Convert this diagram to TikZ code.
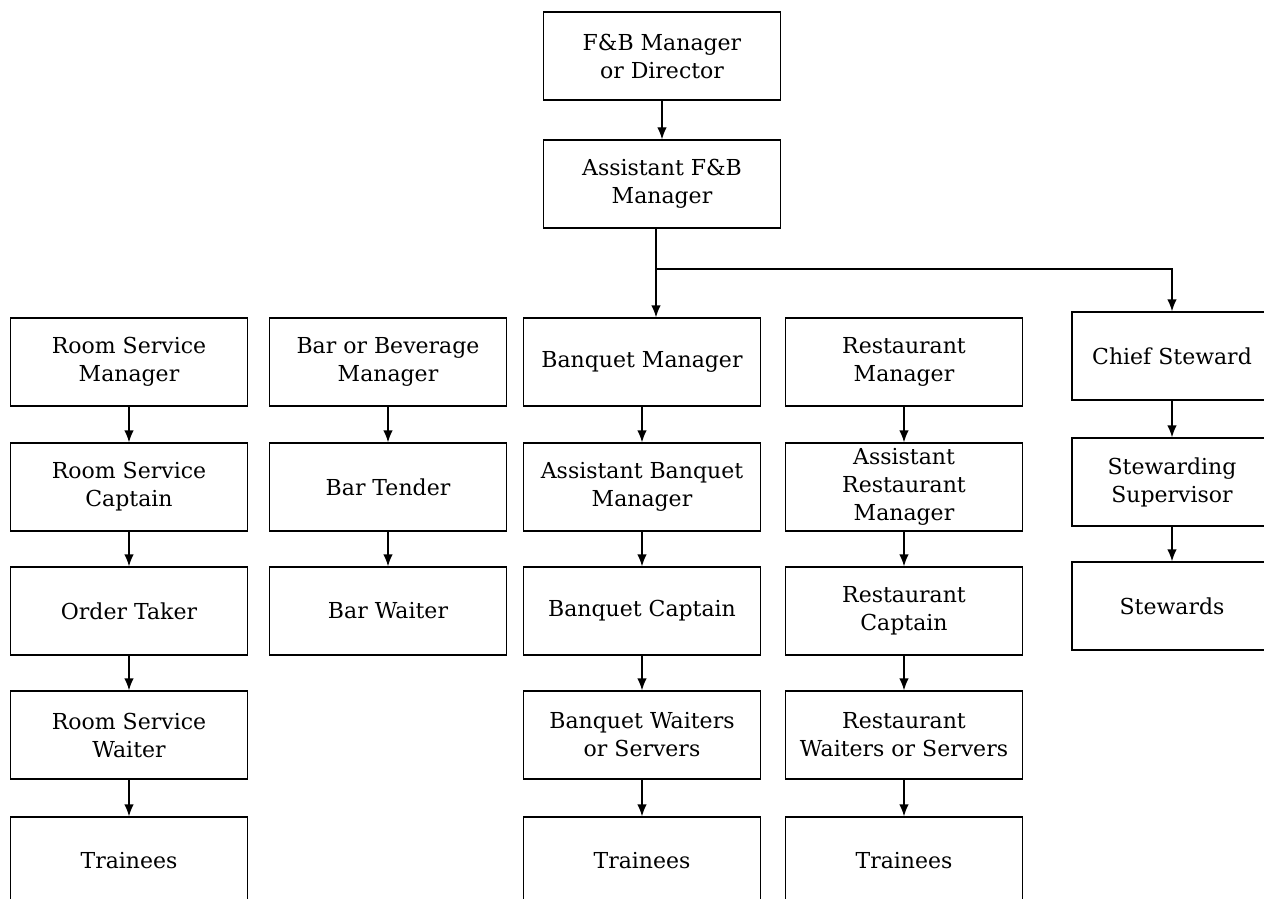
\documentclass[tikz,border=0pt]{standalone}
\usepackage{fontspec}
\setmainfont{DejaVu Serif}
\usetikzlibrary{arrows.meta}
\tikzset{>={Latex[length=6pt, width=4.8pt]}}
\tikzset{post/.style={draw, line width=0.7pt, minimum width=118.5pt, minimum height=44pt,
    align=center, inner sep=1pt, font=\fontsize{11}{14}\selectfont},
  link/.style={->, line width=0.7pt}}

\begin{document}
\begin{tikzpicture}[x=0.5pt, y=-0.5pt]
	\useasboundingbox (0,0) rectangle (1264,899);
	% top of the chart
	\node [post] (fbm) at (662,56) {F\&B Manager\\or Director};
	\node [post] (afbm) at (662,184) {Assistant F\&B\\Manager};
	% room service
	\node [post] (rs1) at (129,362) {Room Service\\Manager};
	\node [post] (rs2) at (129,487) {Room Service\\Captain};
	\node [post] (rs3) at (129,611) {Order Taker};
	\node [post] (rs4) at (129,735) {Room Service\\Waiter};
	\node [post] (rs5) at (129,861) {Trainees};
	% bar
	\node [post] (bar1) at (388,362) {Bar or Beverage\\Manager};
	\node [post] (bar2) at (388,487) {Bar Tender};
	\node [post] (bar3) at (388,611) {Bar Waiter};
	% banquet
	\node [post] (bq1) at (642,362) {Banquet Manager};
	\node [post] (bq2) at (642,487) {Assistant Banquet\\Manager};
	\node [post] (bq3) at (642,611) {Banquet Captain};
	\node [post] (bq4) at (642,735) {Banquet Waiters\\or Servers};
	\node [post] (bq5) at (642,861) {Trainees};
	% restaurant
	\node [post] (rt1) at (904,362) {Restaurant\\Manager};
	\node [post] (rt2) at (904,487) {Assistant\\Restaurant\\Manager};
	\node [post] (rt3) at (904,611) {Restaurant\\Captain};
	\node [post] (rt4) at (904,735) {Restaurant\\Waiters or Servers};
	\node [post] (rt5) at (904,861) {Trainees};
	% stewarding
	\node [post, minimum width=100pt] (st1) at (1172,356) {Chief Steward};
	\node [post, minimum width=100pt] (st2) at (1172,482) {Stewarding\\Supervisor};
	\node [post, minimum width=100pt] (st3) at (1172,606) {Stewards};

	\draw [link] (fbm) -- (afbm);
	\coordinate (split) at (656,269);
	\draw [line width=0.7pt] (afbm.south -| split) -- (split);
	\draw [link] (split) -- (bq1.north -| split);
	\draw [link] (split) -| (st1.north);
	\foreach \a/\b in {rs1/rs2, rs2/rs3, rs3/rs4, rs4/rs5, bar1/bar2, bar2/bar3,
	  bq1/bq2, bq2/bq3, bq3/bq4, bq4/bq5, rt1/rt2, rt2/rt3, rt3/rt4, rt4/rt5,
	  st1/st2, st2/st3}
	\draw [link] (\a) -- (\b);
\end{tikzpicture}
\end{document}
